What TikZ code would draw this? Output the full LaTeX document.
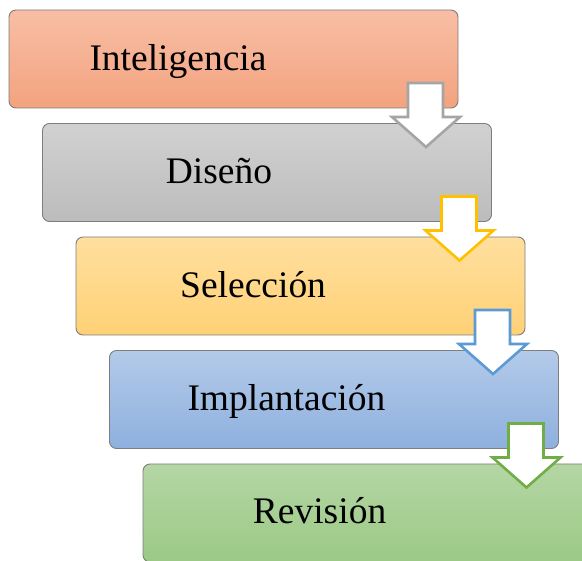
\documentclass[tikz,border=0pt]{standalone}
\usepackage{fontspec}
\setmainfont{Liberation Serif}
\begin{document}
\begin{tikzpicture}[x=1pt,y=-1pt,
  box/.style={rectangle, rounded corners=7pt, minimum width=449pt, minimum height=98pt,
    inner sep=0pt, outer sep=0pt, draw={rgb,255:red,125;green,125;blue,125}, line width=0.9pt},
  lbl/.style={anchor=base west, inner sep=0pt, font=\fontsize{37.5}{45}\selectfont},
  arr/.style={fill=white, line width=2.6pt, line join=miter}]
\definecolor{c1t}{RGB}{248,190,165}\definecolor{c1b}{RGB}{243,163,127}
\definecolor{c2t}{RGB}{209,209,209}\definecolor{c2b}{RGB}{188,188,188}
\definecolor{c3t}{RGB}{255,223,158}\definecolor{c3b}{RGB}{255,209,118}
\definecolor{c4t}{RGB}{179,202,233}\definecolor{c4b}{RGB}{142,176,222}
\definecolor{c5t}{RGB}{180,214,165}\definecolor{c5b}{RGB}{156,201,133}
\definecolor{a1}{RGB}{165,165,165}
\definecolor{a2}{RGB}{255,192,0}
\definecolor{a3}{RGB}{91,155,213}
\definecolor{a4}{RGB}{112,173,71}
\useasboundingbox (0,0) rectangle (582,561);
\clip (0,0) rectangle (582,561);
\node[box, top color=c1t, bottom color=c1b] (b1) at (233.5,59) {};
\node[box, top color=c2t, bottom color=c2b] (b2) at (267,172.5) {};
\node[box, top color=c3t, bottom color=c3b] (b3) at (300.5,286) {};
\node[box, top color=c4t, bottom color=c4b] (b4) at (334,399.5) {};
\node[box, top color=c5t, bottom color=c5b] (b5) at (367.5,513) {};
\node[lbl] (t1) at (89.3,70.7) {Inteligencia};
\node[lbl] (t2) at (165.7,184) {Diseño};
\node[lbl] (t3) at (180,298) {Selección};
\node[lbl] (t4) at (187.3,411) {Implantación};
\node[lbl] (t5) at (252.7,524) {Revisión};
\foreach \i/\c in {0/a1,1/a2,2/a3,3/a4}{
  \begin{scope}[shift={(33.5*\i,113.5*\i)}]
    \draw[arr, draw=\c] (408,83) -- (443,83) -- (443,117) -- (460,117) -- (426,147)
      -- (392,117) -- (408,117) -- cycle;
  \end{scope}
}
\end{tikzpicture}
\end{document}
